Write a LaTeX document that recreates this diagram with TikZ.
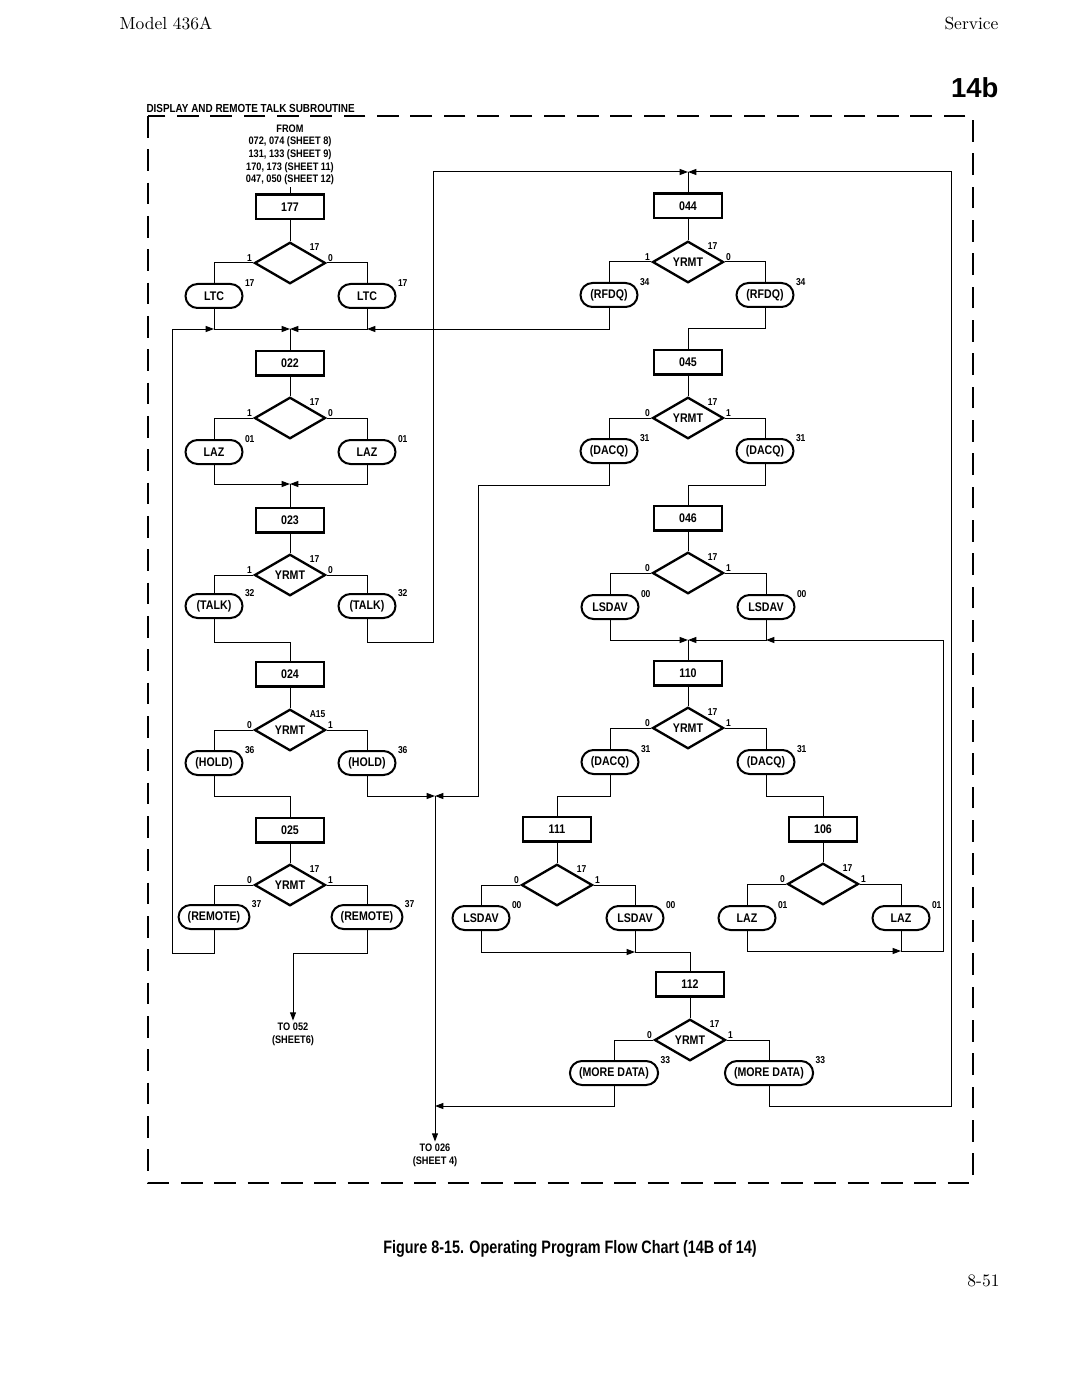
\documentclass[tikz,border=0pt]{standalone}
\usepackage{fontspec}
\newfontfamily\chartfont[FakeStretch=0.85]{Liberation Sans}
\newfontfamily\capfont[FakeStretch=0.8]{Liberation Sans}
\newfontfamily\headfont{Liberation Sans}
\usetikzlibrary{shapes.geometric,arrows.meta}

\tikzset{
  procbox/.style={draw,line width=1.5pt,minimum width=40.8pt,minimum height=14.7pt,inner sep=0pt,
    font=\chartfont\bfseries\fontsize{7.5}{8}\selectfont},
  decision/.style={draw,diamond,line width=1.4pt,minimum width=42.6pt,minimum height=24.9pt,inner sep=0pt,
    font=\chartfont\bfseries\fontsize{7.5}{8}\selectfont},
  term/.style={draw,line width=1.2pt,rounded corners=7.2pt,minimum width=34.2pt,minimum height=14.4pt,
    inner xsep=5.5pt,inner ysep=0pt,font=\chartfont\bfseries\fontsize{7.5}{8}\selectfont},
  lbl/.style={font=\chartfont\bfseries\fontsize{6}{6}\selectfont,inner sep=0.6pt},
  txt/.style={font=\chartfont\bfseries\fontsize{6.5}{7.6}\selectfont,align=center,inner sep=1pt},
  dtop/.style={label={[lbl]north east:#1}},
  dleft/.style={label={[lbl,anchor=south east]west:#1}},
  dright/.style={label={[lbl,anchor=south west]east:#1}},
  tlab/.style={label={[lbl,anchor=west]north east:#1}},
  flow/.style={-{Triangle[length=5pt,width=3.6pt]}},
  subframe/.style={line width=0.9pt,dash pattern=on 13pt off 7pt}
}

\begin{document}
\begin{tikzpicture}[x=0.6pt,y=-0.6pt,line width=0.6pt]
\useasboundingbox (0,0) rectangle (1080,1399);

\node[anchor=base west,inner sep=0pt,font=\fontsize{10.5}{12}\selectfont] (model) at (119,30) {Model 436A};
\node[anchor=base east,inner sep=0pt,font=\fontsize{10.5}{12}\selectfont] (service) at (999,30) {Service};
\node[anchor=base east,inner sep=0pt,font=\headfont\bfseries\fontsize{16.5}{18}\selectfont] (sheet) at (999,98) {14b};

\draw[subframe] (148,116) rectangle (973,1183);
\node[anchor=base west,inner sep=0pt,font=\chartfont\bfseries\fontsize{7}{8}\selectfont] (title) at (146,113) {DISPLAY AND REMOTE TALK SUBROUTINE};

\node[txt] (from) at (290,155) {FROM\\072, 074 (SHEET 8)\\131, 133 (SHEET 9)\\170, 173 (SHEET 11)\\047, 050 (SHEET 12)};

\node[procbox] (b177) at (290,207) {177};
\node[decision,dtop=17,dleft=1,dright=0] (d177) at (290,263) {};
\node[term,tlab=17] (l177) at (214,296) {LTC};
\node[term,tlab=17] (r177) at (367,296) {LTC};
\coordinate (j177) at (290,329);
\coordinate (jl177) at (214,329);
\coordinate (jr177) at (367,329);
\draw (from) -- (b177);
\draw (b177) -- (d177);
\draw (d177.west) -| (l177);
\draw (d177.east) -| (r177);
\draw[flow] (l177) |- (j177);
\draw[flow] (r177) |- (j177);

\node[procbox] (b022) at (290,363) {022};
\node[decision,dtop=17,dleft=1,dright=0] (d022) at (290,418) {};
\node[term,tlab=01] (l022) at (214,452) {LAZ};
\node[term,tlab=01] (r022) at (367,452) {LAZ};
\coordinate (j022) at (290,484);
\draw (j177) -- (b022);
\draw (b022) -- (d022);
\draw (d022.west) -| (l022);
\draw (d022.east) -| (r022);
\draw[flow] (l022) |- (j022);
\draw[flow] (r022) |- (j022);

\node[procbox] (b023) at (290,520) {023};
\node[decision,dtop=17,dleft=1,dright=0] (d023) at (290,575) {YRMT};
\node[term,tlab=32] (l023) at (214,606) {(TALK)};
\node[term,tlab=32] (r023) at (367,606) {(TALK)};
\coordinate (j023) at (290,642);
\coordinate (k023) at (433,642);
\draw (j022) -- (b023);
\draw (b023) -- (d023);
\draw (d023.west) -| (l023);
\draw (d023.east) -| (r023);

\node[procbox] (b024) at (290,674) {024};
\node[decision,dtop=A15,dleft=0,dright=1] (d024) at (290,730) {YRMT};
\node[term,tlab=36] (l024) at (214,763) {(HOLD)};
\node[term,tlab=36] (r024) at (367,763) {(HOLD)};
\coordinate (j024) at (290,796);
\draw (l023) |- (j023) -- (b024);
\draw (b024) -- (d024);
\draw (d024.west) -| (l024);
\draw (d024.east) -| (r024);

\node[procbox] (b025) at (290,830) {025};
\node[decision,dtop=17,dleft=0,dright=1] (d025) at (290,885) {YRMT};
\node[term,tlab=37] (l025) at (214,917) {(REMOTE)};
\node[term,tlab=37] (r025) at (367,917) {(REMOTE)};
\coordinate (k025) at (172,953);
\coordinate (j025) at (293,953);
\node[txt] (to052) at (293,1034) {TO 052\\(SHEET6)};
\draw (l024) |- (j024) -- (b025);
\draw (b025) -- (d025);
\draw (d025.west) -| (l025);
\draw (d025.east) -| (r025);
\draw[flow] (l025) |- (k025) |- (jl177);
\draw[flow] (r025) |- (j025) -- (to052);

\coordinate (j044) at (688,172);
\node[procbox] (b044) at (688,206) {044};
\node[decision,dtop=17,dleft=1,dright=0] (d044) at (688,262) {YRMT};
\node[term,tlab=34] (l044) at (609,295) {(RFDQ)};
\node[term,tlab=34] (r044) at (765,295) {(RFDQ)};
\coordinate (j045) at (688,328);
\draw[flow] (r023) |- (k023) |- (j044);
\draw (j044) -- (b044);
\draw (b044) -- (d044);
\draw (d044.west) -| (l044);
\draw (d044.east) -| (r044);
\draw[flow] (l044) |- (jr177);

\node[procbox] (b045) at (688,362) {045};
\node[decision,dtop=17,dleft=0,dright=1] (d045) at (688,418) {YRMT};
\node[term,tlab=31] (l045) at (609,451) {(DACQ)};
\node[term,tlab=31] (r045) at (765,451) {(DACQ)};
\coordinate (k045) at (478,485);
\coordinate (j046) at (688,485);
\coordinate (jh) at (435,796);
\draw (r044) |- (j045) -- (b045);
\draw (b045) -- (d045);
\draw (d045.west) -| (l045);
\draw (d045.east) -| (r045);
\draw[flow] (l045) |- (k045) |- (jh);
\draw[flow] (r024) |- (jh);
\node[txt] (to026) at (435,1155) {TO 026\\(SHEET 4)};
\draw[flow] (jh) -- (to026);

\node[procbox] (b046) at (688,518) {046};
\node[decision,dtop=17,dleft=0,dright=1] (d046) at (688,573) {};
\node[term,tlab=00] (l046) at (610,607) {LSDAV};
\node[term,tlab=00] (r046) at (766,607) {LSDAV};
\coordinate (j110) at (688,640);
\coordinate (jr110) at (766,640);
\draw (r045) |- (j046) -- (b046);
\draw (b046) -- (d046);
\draw (d046.west) -| (l046);
\draw (d046.east) -| (r046);
\draw[flow] (l046) |- (j110);
\draw[flow] (r046) |- (j110);

\node[procbox] (b110) at (688,673) {110};
\node[decision,dtop=17,dleft=0,dright=1] (d110) at (688,728) {YRMT};
\node[term,tlab=31] (l110) at (610,762) {(DACQ)};
\node[term,tlab=31] (r110) at (766,762) {(DACQ)};
\coordinate (j111) at (557,796);
\coordinate (j106) at (823,796);
\draw (j110) -- (b110);
\draw (b110) -- (d110);
\draw (d110.west) -| (l110);
\draw (d110.east) -| (r110);

\node[procbox] (b111) at (557,829) {111};
\node[decision,dtop=17,dleft=0,dright=1] (d111) at (557,885) {};
\node[term,tlab=00] (l111) at (481,918) {LSDAV};
\node[term,tlab=00] (r111) at (635,918) {LSDAV};
\coordinate (m111) at (635,952);
\draw (l110) |- (j111) -- (b111);
\draw (b111) -- (d111);
\draw (d111.west) -| (l111);
\draw (d111.east) -| (r111);
\draw[flow] (l111) |- (m111);

\node[procbox] (b106) at (823,829) {106};
\node[decision,dtop=17,dleft=0,dright=1] (d106) at (823,884) {};
\node[term,tlab=01] (l106) at (747,918) {LAZ};
\node[term,tlab=01] (r106) at (901,918) {LAZ};
\coordinate (m106) at (901,951);
\coordinate (k106) at (943,951);
\draw (r110) |- (j106) -- (b106);
\draw (b106) -- (d106);
\draw (d106.west) -| (l106);
\draw (d106.east) -| (r106);
\draw[flow] (l106) |- (m106);
\draw[flow] (r106) |- (k106) |- (jr110);

\node[procbox] (b112) at (690,984) {112};
\node[decision,dtop=17,dleft=0,dright=1] (d112) at (690,1040) {YRMT};
\node[term,tlab=33] (l112) at (614,1073) {(MORE DATA)};
\node[term,tlab=33] (r112) at (769,1073) {(MORE DATA)};
\coordinate (jm) at (435,1106);
\coordinate (k112) at (951,1106);
\draw (r111) -- (m111) -| (b112);
\draw (b112) -- (d112);
\draw (d112.west) -| (l112);
\draw (d112.east) -| (r112);
\draw[flow] (l112) |- (jm);
\draw[flow] (r112) |- (k112) |- (j044);

\node[anchor=base,inner sep=0pt,font=\capfont\bfseries\fontsize{10.8}{12}\selectfont] (caption) at (570,1253) {Figure 8-15. Operating Program Flow Chart (14B of 14)};
\node[anchor=base east,inner sep=0pt,font=\fontsize{10.5}{12}\selectfont] (page) at (1000,1286) {8-51};
\end{tikzpicture}
\end{document}
